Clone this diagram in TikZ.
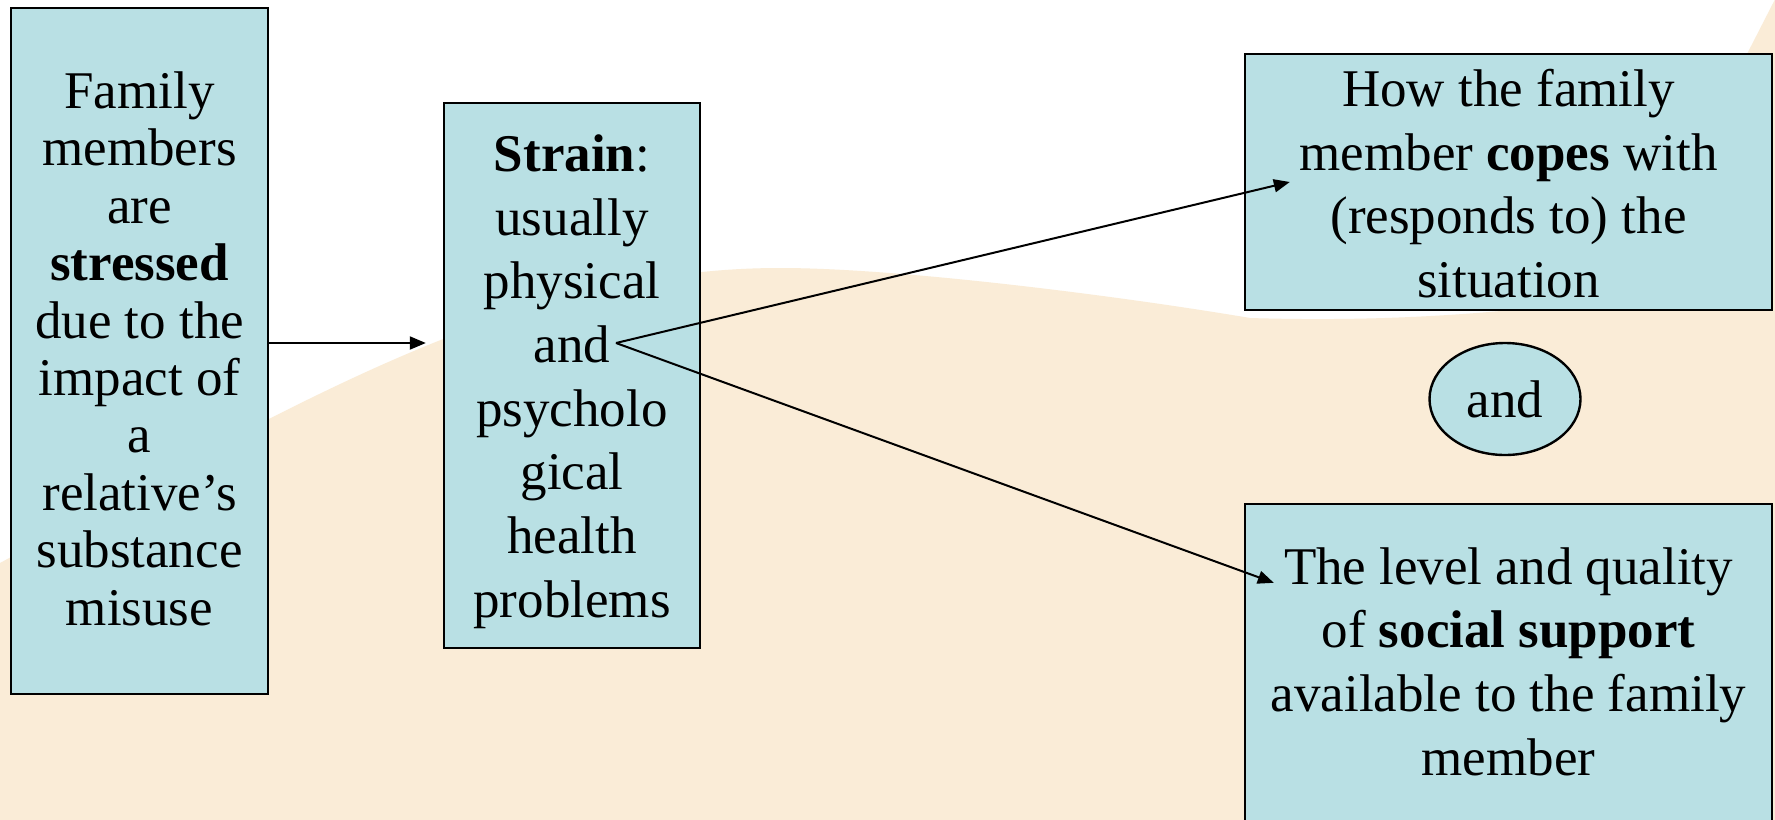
\documentclass[tikz,border=0pt]{standalone}
\usepackage{fontspec}
\setmainfont{Liberation Serif}
\usetikzlibrary{arrows.meta,calc,shapes.geometric}
\definecolor{boxblue}{RGB}{185,224,228}
\definecolor{sandbg}{RGB}{250,236,215}
\begin{document}
\begin{tikzpicture}[x=0.5pt,y=-0.5pt,
	blockbox/.style={draw=black,line width=1.2pt,fill=boxblue,align=center,inner sep=2pt,font=\fontsize{26.5}{31.85}\selectfont},
	arr/.style={line width=1pt,-{Triangle[length=8pt,width=6.5pt]}}]
		
		\useasboundingbox[fill=white](0,0) rectangle (1775,819);
		
		\fill[sandbg](-10,563)--(0,563) .. controls (300,401) and (520,268) .. (780,268)
		.. controls (900,268) and (1120,296) .. (1250,318)
		.. controls (1380,322) and (1480,314) .. (1560,305)
		.. controls (1660,292) and (1710,128) .. (1747,54)
		--(1790,-30)--(1790,840)--(-10,840)--cycle;
		
		\node[blockbox,minimum width=128.5pt,minimum height=343pt,font=\fontsize{26.5}{28.7}\selectfont] (famnode) at (139.5,351)
		{\rule{0pt}{22pt}Family\\members\\are\\\textbf{stressed}\\due to the\\impact of\\a\\relative’s\\substance\\misuse\rule[-6.2pt]{0pt}{0pt}};
		
		\node[blockbox,minimum width=128pt,minimum height=272.5pt] (strainnode) at (572,375.5)
		{\rule{0pt}{26pt}\textbf{Strain}:\\usually\\physical\\and\\psycholo\\gical\\health\\problems\rule[-7.15pt]{0pt}{0pt}};
		
		\node[blockbox,minimum width=263.5pt,minimum height=128pt] (copenode) at (1508.5,182)
		{\rule{0pt}{20.3pt}How the family\\member \textbf{copes} with\\(responds to) the\\situation};
		
		\node[blockbox,ellipse,minimum width=75.5pt,minimum height=56pt] (andnode) at (1505,399) {and};
		
		\node[blockbox,minimum width=263.5pt,minimum height=168pt] (supportnode) at (1508.5,672)
		{\rule{0pt}{20pt}The level and quality\\of \textbf{social support}\\available to the family\\member\rule[-12.2pt]{0pt}{0pt}};
		
		\coordinate (famout) at ([yshift=4pt]famnode.east);
		\coordinate (strainin) at ($(famout -| strainnode.west)+(-17,0)$);
		\coordinate (andword) at ($(strainnode.center)+(44,-32.5)$);
		\coordinate (copein) at ($(copenode.west)+(46,0)$);
		\coordinate (supportin) at ($(supportnode.north west)+(30,80)$);
		
		\draw[arr](famout)--(strainin);
		\draw[arr](andword)--(copein);
		\draw[arr](andword)--(supportin);
		
\end{tikzpicture}
\end{document}
